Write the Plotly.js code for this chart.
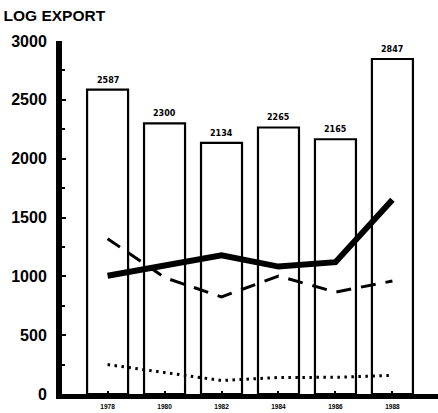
<!DOCTYPE html>
<html>
<head>
<meta charset="utf-8">
<script src="https://cdn.plot.ly/plotly-3.0.1.min.js"></script>
<style>html,body{margin:0;padding:0;background:#fff;}#chart{width:438px;height:413px;}</style>
</head>
<body>
<div id="chart"></div>
<script>
var years = ["1978", "1980", "1982", "1984", "1986", "1988"];
var logExport = [2587, 2300, 2134, 2265, 2165, 2847];
var solidSeries = [1005, 1093, 1178, 1083, 1120, 1650];
var dashedSeries = [1320, 990, 825, 1003, 866, 960];
var dottedSeries = [250, 180, 115, 140, 142, 158];
var yTickVals = [0, 500, 1000, 1500, 2000, 2500, 3000];

var FONT = "Liberation Sans, Arial, sans-serif";

var traces = [
  {
    type: "bar", x: years, y: logExport,
    marker: {color: "#ffffff", line: {color: "#000000", width: 2.2}},
    width: 0.72, hoverinfo: "skip"
  },
  {
    type: "scatter", mode: "lines", x: years, y: solidSeries,
    line: {color: "#000", width: 6}, hoverinfo: "skip"
  },
  {
    type: "scatter", mode: "lines", x: years, y: dashedSeries,
    line: {color: "#000", width: 3, dash: "15px,10px"}, hoverinfo: "skip"
  },
  {
    type: "scatter", mode: "lines", x: years, y: dottedSeries,
    line: {color: "#000", width: 3, dash: "2.5px,4.5px"}, hoverinfo: "skip"
  }
];

// category index i corresponds to years[i]
var barLabels = years.map(function (yr, i) {
  return {
    x: i, y: logExport[i], xref: "x", yref: "y",
    text: "<b>" + String(logExport[i]) + "</b>", showarrow: false,
    yanchor: "bottom", xanchor: "center", yshift: 3,
    font: {family: "DejaVu Sans, sans-serif", size: 8, color: "#000"}
  };
});

var layout = {
  width: 438, height: 413,
  margin: {l: 62, r: 0, t: 41, b: 19},
  paper_bgcolor: "#fff", plot_bgcolor: "#fff",
  showlegend: false,
  title: {
    text: "LOG EXPORT", xref: "container", yref: "container",
    x: 0.008, xanchor: "left", y: 1 - 16 / 413, yanchor: "middle",
    font: {family: FONT, size: 15.5, color: "#000", weight: 700}
  },
  xaxis: {
    type: "category", range: [-0.8, 5.8],
    showline: true, linecolor: "#000", linewidth: 5,
    ticks: "inside", ticklen: 3, tickwidth: 2, tickcolor: "#000",
    showgrid: false, zeroline: false,
    tickfont: {family: FONT, size: 6.5, color: "#000", weight: 700},
    ticklabelstandoff: 2
  },
  yaxis: {
    range: [0, 3000], tickvals: yTickVals, ticktext: yTickVals.map(String),
    showline: true, linecolor: "#000", linewidth: 6,
    ticks: "inside", ticklen: 4, tickwidth: 2, tickcolor: "#000",
    minor: {dtick: 250, ticks: "inside", ticklen: 3, tickwidth: 2, tickcolor: "#000"},
    showgrid: false, zeroline: false,
    tickfont: {family: FONT, size: 16, color: "#000", weight: 700},
    ticklabelstandoff: 6
  },
  annotations: barLabels
};

Plotly.newPlot("chart", traces, layout, {displayModeBar: false, staticPlot: true});
</script>
</body>
</html>
